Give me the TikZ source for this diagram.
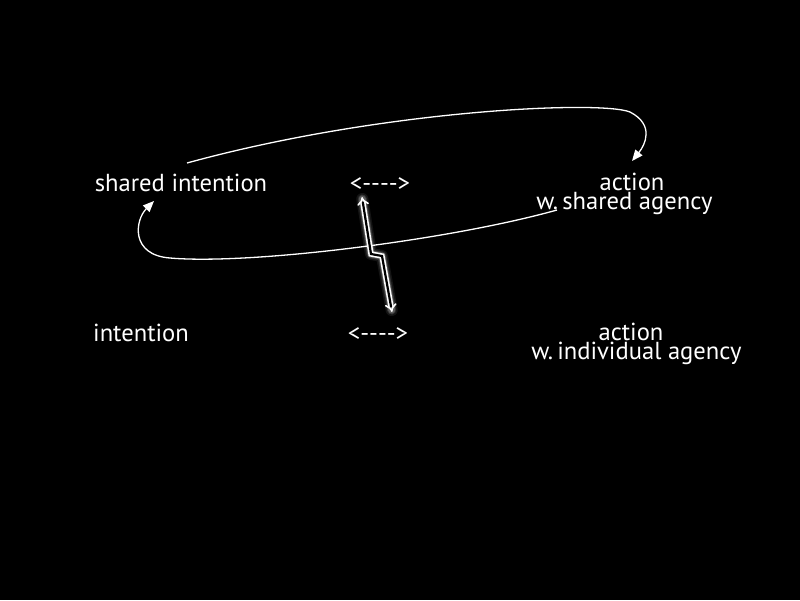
\documentclass[tikz,border=0pt]{standalone}
\usepackage{fontspec}
\setmainfont{PT Sans}[Ligatures=TeXOff]
\usetikzlibrary{arrows.meta}
\begin{document}
\begin{tikzpicture}[x=1pt,y=-1pt,
  lbl/.style={text=white,font=\fontsize{24.6}{24}\selectfont,inner sep=0pt,anchor=base},
  lbl2/.style={text=white,font=\fontsize{24.6}{19}\selectfont,inner sep=0pt,align=center,anchor=north},
  curv/.style={draw=white,line width=1.3pt,-{Triangle[length=11pt,width=9pt]}},
  zz/.style={draw=white,line width=1.6pt,double=black,double distance=2.2pt,{Implies[length=7pt,width=14pt]}-{Implies[length=7pt,width=14pt]}}]
\fill[black] (0,0) rectangle (800,600);
\useasboundingbox (0,0) rectangle (800,600);
\node[lbl] (si) at (181,191) {shared intention};
\node[lbl] (a1) at (380,191) {<---->};
\node[lbl2] (act1) at (624.5,173) {\hspace*{15pt}action\\w.\,shared agency};
\node[lbl] (in) at (141,341) {intention};
\node[lbl] (a2) at (378,341) {<---->};
\node[lbl2] (act2) at (636.5,323) {action\hspace*{11pt}\\w.\,individual agency};
\coordinate (c1s) at (187,163);
\coordinate (c1e) at (632,161);
\coordinate (c2s) at (557,210);
\coordinate (c2e) at (154,201);
\draw[curv] (c1s) .. controls (380,110) and (600,100) .. (630,112) .. controls (655,125) and (645,145) .. (c1e);
\draw[curv] (c2s) .. controls (450,240) and (250,265) .. (170,258) .. controls (130,255) and (135,220) .. (c2e);
\coordinate (z1) at (362,197);
\coordinate (z2) at (371,254);
\coordinate (z3) at (382,256);
\coordinate (z4) at (392,312);
\foreach \w/\o in {12/0.08,9/0.13,7/0.2}
  \draw[white,opacity=\o,line width=\w pt,line join=round,line cap=round,shorten <=2pt,shorten >=2pt] (z1) -- (z2) -- (z3) -- (z4);
\draw[zz] (z1) -- (z2) -- (z3) -- (z4);
\end{tikzpicture}
\end{document}
